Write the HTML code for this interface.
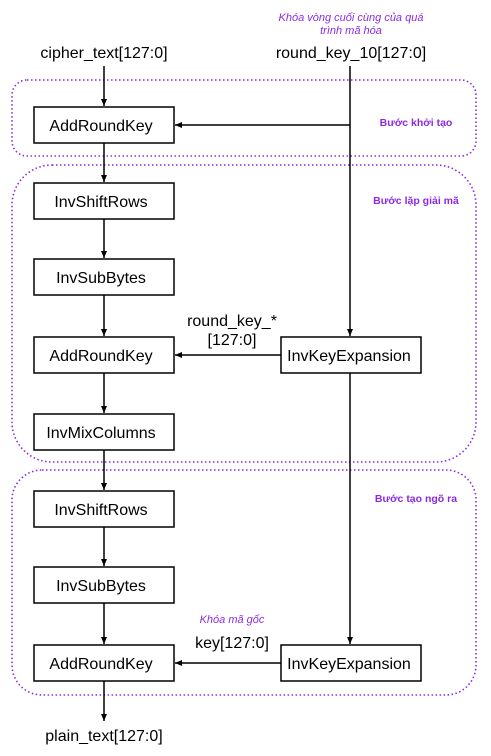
<!DOCTYPE html>
<html><head><meta charset="utf-8"><style>body{margin:0;background:#fff}</style></head><body>
<svg width="491" height="751" xmlns="http://www.w3.org/2000/svg" font-family="Liberation Sans, Arial, sans-serif">
<defs><marker id="a" markerWidth="8" markerHeight="8" refX="7" refY="4" orient="auto" markerUnits="userSpaceOnUse"><path d="M0,1 L7,4 L0,7 Z" fill="#000"/></marker></defs>
<g fill="none" stroke="#8a2be2" stroke-width="1.6" stroke-dasharray="1.5 2.5">
<rect x="12" y="80" width="464" height="76" rx="15"/>
<rect x="12" y="165" width="464" height="297" rx="40"/>
<rect x="12" y="470" width="464" height="225" rx="30"/>
</g>
<g stroke="#000" stroke-width="1.5" fill="none" marker-end="url(#a)">
<line x1="104" y1="66" x2="104" y2="106"/>
<line x1="104" y1="143" x2="104" y2="182"/>
<line x1="104" y1="219" x2="104" y2="258"/>
<line x1="104" y1="295" x2="104" y2="336"/>
<line x1="104" y1="373" x2="104" y2="413"/>
<line x1="104" y1="450" x2="104" y2="490"/>
<line x1="104" y1="527" x2="104" y2="566"/>
<line x1="104" y1="603" x2="104" y2="644"/>
<line x1="104" y1="681" x2="104" y2="721"/>
<line x1="350" y1="66" x2="350" y2="336"/>
<line x1="350" y1="125" x2="175" y2="125"/>
<line x1="281" y1="355" x2="175" y2="355"/>
<line x1="350" y1="373" x2="350" y2="644"/>
<line x1="281" y1="663" x2="175" y2="663"/>
</g>
<g fill="#fff" stroke="#000" stroke-width="1.5">
<rect x="34" y="107" width="140" height="36"/>
<rect x="34" y="183" width="140" height="36"/>
<rect x="34" y="259" width="140" height="36"/>
<rect x="34" y="337" width="140" height="36"/>
<rect x="34" y="414" width="140" height="36"/>
<rect x="34" y="491" width="140" height="36"/>
<rect x="34" y="567" width="140" height="36"/>
<rect x="34" y="645" width="140" height="36"/>
<rect x="281" y="337" width="140" height="36"/>
<rect x="281" y="645" width="140" height="36"/>
</g>
<g font-size="16" text-anchor="middle" fill="#000">
<text x="101" y="131">AddRoundKey</text>
<text x="101" y="207">InvShiftRows</text>
<text x="101" y="283">InvSubBytes</text>
<text x="101" y="361">AddRoundKey</text>
<text x="101" y="438">InvMixColumns</text>
<text x="101" y="515">InvShiftRows</text>
<text x="101" y="591">InvSubBytes</text>
<text x="101" y="669">AddRoundKey</text>
<text x="349" y="361">InvKeyExpansion</text>
<text x="349" y="669">InvKeyExpansion</text>
<text x="104" y="58">cipher_text[127:0]</text>
<text x="351" y="58">round_key_10[127:0]</text>
<text x="104" y="741">plain_text[127:0]</text>
<text x="232" y="326">round_key_*</text>
<text x="232" y="345">[127:0]</text>
<text x="232" y="648">key[127:0]</text>
</g>
<g font-size="11" fill="#8a2be2" text-anchor="middle">
<text x="351" y="21" font-style="italic">Khóa vòng cuối cùng của quá</text>
<text x="351" y="34" font-style="italic">trình mã hóa</text>
<text x="232" y="623" font-style="italic">Khóa mã gốc</text>
</g>
<g font-size="10.5" fill="#8a2be2" text-anchor="middle" font-weight="bold">
<text x="416" y="126">Bước khởi tạo</text>
<text x="416" y="204">Bước lặp giải mã</text>
<text x="416" y="502">Bước tạo ngõ ra</text>
</g>
</svg>
</body></html>
